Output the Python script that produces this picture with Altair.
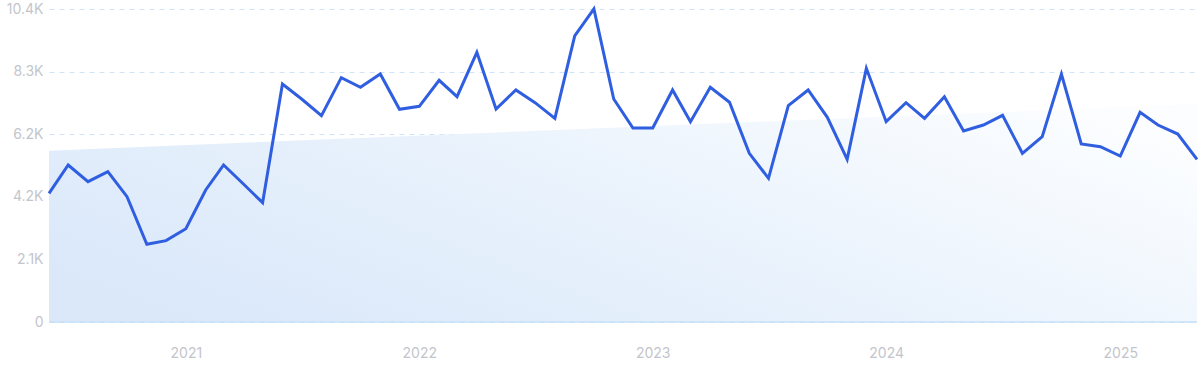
import altair as alt
import pandas as pd

months = pd.date_range("2020-06-01", periods=60, freq="MS").strftime("%Y-%m-%d").tolist()
values = [
    4276, 5217, 4662, 4995, 4164, 2581, 2703, 3101, 4386, 5217,
    4585, 3965, 7908, 7410, 6855, 8118, 7798, 8240, 7067, 7167,
    8031, 7486, 8961, 7077, 7709, 7287, 6768, 9503, 10400, 7410,
    6446, 6446, 7709, 6656, 7798, 7300, 5605, 4775, 7188, 7709,
    6801, 5406, 8429, 6656, 7287, 6768, 7486, 6346, 6546, 6867,
    5605, 6157, 8240, 5914, 5825, 5515, 6967, 6546, 6246, 5406,
]
trend_dates = [months[0], months[-1]]
trend_values = [5692, 7243]
y_ticks = [0, 2080, 4160, 6240, 8320, 10400]
x_ticks = ["2021-01-01", "2022-01-01", "2023-01-01", "2024-01-01", "2025-01-01"]

df = pd.DataFrame({"date": months, "value": values})
tdf = pd.DataFrame({"date": trend_dates, "trend": trend_values})

x_scale = alt.Scale(domain=[months[0], months[-1]], nice=False)
y_scale = alt.Scale(domain=[0, 10400], nice=False)

x_axis = alt.Axis(
    values=[pd.Timestamp(d).isoformat() for d in x_ticks],
    format="%Y", labelFontSize=14, labelColor="#c3c5cc", labelPadding=24,
    domain=False, ticks=False, grid=False, title=None, labelFont="Inter",
)
y_axis = alt.Axis(
    values=y_ticks,
    labelExpr="datum.value == 0 ? '0' : format(datum.value / 1000, '.1f') + 'K'",
    labelFontSize=14, labelColor="#c3c5cc", labelPadding=6,
    domain=False, ticks=False, grid=True, gridColor="#cfe4f8",
    gridDash=[5, 5], gridWidth=1, title=None, labelFont="Inter",
)

area = alt.Chart(tdf).mark_area(
    color=alt.Gradient(
        gradient="linear",
        stops=[alt.GradientStop(color="#dae8fa", offset=0),
               alt.GradientStop(color="#e9f2fc", offset=0.5),
               alt.GradientStop(color="#fbfdff", offset=1)],
        x1=0, y1=0.75, x2=1, y2=0.25,
    ),
    opacity=1,
).encode(
    x=alt.X("date:T", scale=x_scale, axis=x_axis),
    y=alt.Y("trend:Q", scale=y_scale, axis=y_axis),
    y2=alt.datum(0),
)

base = alt.Chart(pd.DataFrame({"z": [0]})).mark_rule(color="#c6e1f7", strokeWidth=1.5).encode(
    y=alt.Y("z:Q", scale=y_scale),
)

line = alt.Chart(df).mark_line(color="#2f5ee0", strokeWidth=3, strokeJoin="miter").encode(
    x=alt.X("date:T", scale=x_scale),
    y=alt.Y("value:Q", scale=y_scale),
)

chart = alt.layer(area, base, line).properties(
    width=1148, height=313,
    autosize=alt.AutoSizeParams(type="none"),
    padding={"left": 49, "top": 9, "right": 3, "bottom": 49},
).configure_view(stroke=None)

chart.save("out.html", embed_options={"renderer": "svg", "actions": False})
